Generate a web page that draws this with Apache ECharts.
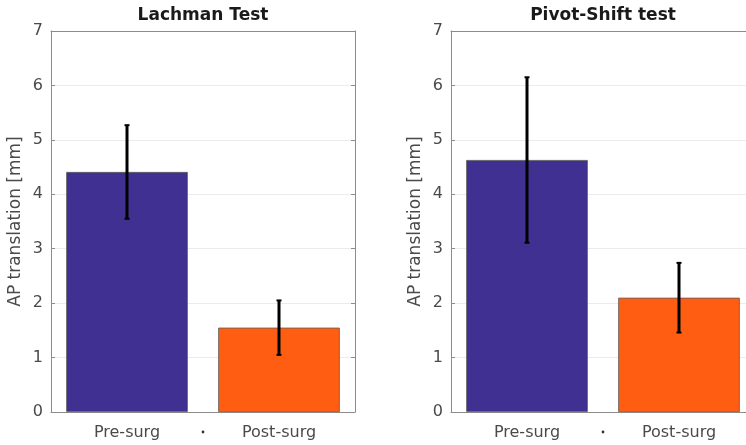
<!DOCTYPE html>
<html>
<head>
<meta charset="utf-8">
<script src="https://cdn.jsdelivr.net/npm/echarts@6/dist/echarts.min.js"></script>
<style>
  html, body { margin: 0; padding: 0; background: #fff; overflow: hidden; }
  /* the right panel is cut off in the original, so the canvas runs past the window */
  #wrap { width: 746px; height: 445px; overflow: hidden; }
  #chart { width: 800px; height: 445px; }
</style>
</head>
<body>
<div id="wrap"><div id="chart"></div></div>
<script>
// values
var categories = ['Pre-surg', 'Post-surg'];
var panelTitles = ['Lachman Test', 'Pivot-Shift test'];
var lachmanMean = [4.41, 1.55];
var lachmanErr = [0.86, 0.50];
var pivotMean = [4.63, 2.10];
var pivotErr = [1.52, 0.64];
var barColors = ['#3f3091', '#ff5e12'];

var FONT = 'DejaVu Sans';
var axisGray = '#8c8c8c';
var gridBoxes = [
    { left: 51, top: 31, width: 304, height: 381, outerBoundsMode: 'none', show: false, borderWidth: 0 },
    { left: 451, top: 31, width: 304, height: 381, outerBoundsMode: 'none', show: false, borderWidth: 0 }
];

var chart = echarts.init(document.getElementById('chart'));

var xAxes = [], yAxes = [], series = [], graphics = [];
var means = [lachmanMean, pivotMean];
var errs = [lachmanErr, pivotErr];

gridBoxes.forEach(function (g, i) {
    // bottom + top category axes (MATLAB style box)
    xAxes.push({
        type: 'category', gridIndex: i, data: categories, position: 'bottom',
        axisLine: { onZero: false, lineStyle: { color: axisGray, width: 1 } },
        axisTick: { inside: true, alignWithLabel: true, length: 4, lineStyle: { color: axisGray } },
        axisLabel: { fontFamily: FONT, fontSize: 16, color: '#4a4a4a', margin: 13 }
    });
    xAxes.push({
        type: 'category', gridIndex: i, data: categories, position: 'top',
        axisLine: { onZero: false, lineStyle: { color: axisGray, width: 1 } },
        axisTick: { inside: true, alignWithLabel: true, length: 4, lineStyle: { color: axisGray } },
        axisLabel: { show: false }
    });
    yAxes.push({
        type: 'value', gridIndex: i, min: 0, max: 7, interval: 1, position: 'left',
        name: 'AP translation [mm]', nameLocation: 'middle', nameGap: 27,
        nameTextStyle: { fontFamily: FONT, fontSize: 17, color: '#4a4a4a' },
        axisLine: { show: true, onZero: false, lineStyle: { color: axisGray, width: 1 } },
        axisTick: { show: true, inside: true, length: 4, lineStyle: { color: axisGray } },
        axisLabel: { fontFamily: FONT, fontSize: 16, color: '#4a4a4a', margin: 8 },
        splitLine: { show: true, lineStyle: { color: '#ebebeb', width: 1 } }
    });
    yAxes.push({
        type: 'value', gridIndex: i, min: 0, max: 7, interval: 1, position: 'right',
        axisLine: { show: true, onZero: false, lineStyle: { color: axisGray, width: 1 } },
        axisTick: { show: true, inside: true, length: 4, lineStyle: { color: axisGray } },
        axisLabel: { show: false },
        splitLine: { show: false }
    });

    series.push({
        type: 'bar', xAxisIndex: i * 2, yAxisIndex: i * 2,
        barWidth: '80%',
        data: means[i].map(function (v, k) {
            return { value: v, itemStyle: { color: barColors[k] } };
        }),
        itemStyle: { borderColor: '#5a5a5a', borderWidth: 0.8 },
        z: 2
    });

    series.push({
        type: 'custom', xAxisIndex: i * 2, yAxisIndex: i * 2,
        data: means[i].map(function (v, k) {
            return [k, v - errs[i][k], v + errs[i][k]];
        }),
        renderItem: function (params, api) {
            var lo = api.coord([api.value(0), api.value(1)]);
            var hi = api.coord([api.value(0), api.value(2)]);
            var cap = 2.5;
            return {
                type: 'group',
                children: [
                    { type: 'line', shape: { x1: hi[0], y1: hi[1], x2: lo[0], y2: lo[1] }, style: { stroke: '#000', lineWidth: 3 } },
                    { type: 'line', shape: { x1: hi[0] - cap, y1: hi[1], x2: hi[0] + cap, y2: hi[1] }, style: { stroke: '#000', lineWidth: 2 } },
                    { type: 'line', shape: { x1: lo[0] - cap, y1: lo[1], x2: lo[0] + cap, y2: lo[1] }, style: { stroke: '#000', lineWidth: 2 } }
                ]
            };
        },
        z: 5
    });

    var cx = g.left + g.width / 2;
    graphics.push({
        type: 'text', x: cx, y: 16,
        style: { text: panelTitles[i], align: 'center', verticalAlign: 'middle',
                 font: 'bold 17px "DejaVu Sans"', fill: '#1a1a1a' }
    });
    // small dot between the two category labels
    graphics.push({
        type: 'circle', shape: { cx: cx, cy: 432, r: 1.4 },
        style: { fill: '#333' }
    });
});

chart.setOption({
    backgroundColor: '#fff',
    animation: false,
    grid: gridBoxes,
    xAxis: xAxes,
    yAxis: yAxes,
    series: series,
    graphic: graphics
});
</script>
</body>
</html>
